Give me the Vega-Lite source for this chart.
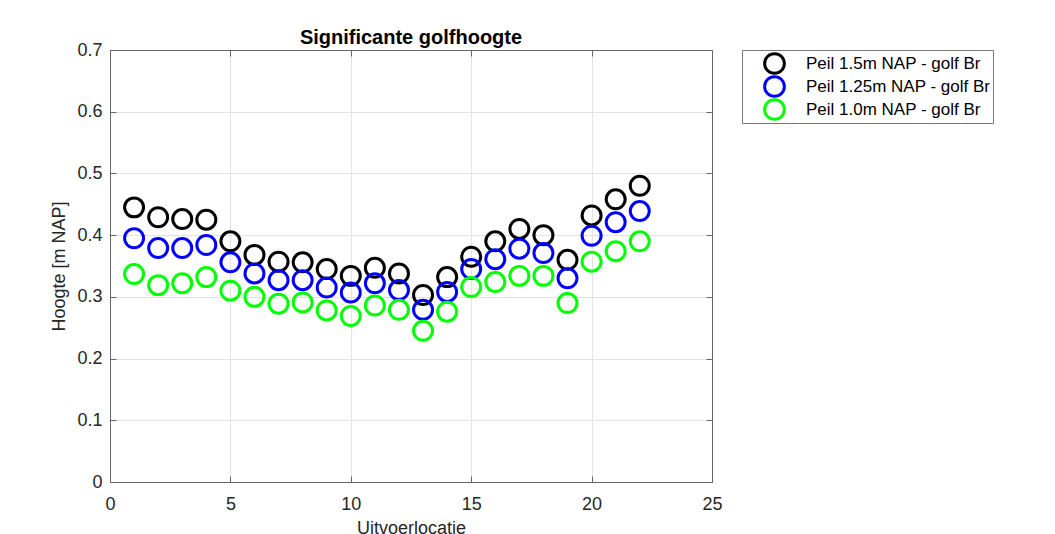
{
  "$schema": "https://vega.github.io/schema/vega-lite/v6.json",
  "width": 602,
  "height": 432,
  "autosize": "none",
  "padding": {"left": 110, "top": 50, "right": 343, "bottom": 52},
  "background": "white",
  "title": {"text": "Significante golfhoogte", "font": "Liberation Sans", "fontSize": 20, "fontWeight": "bold", "color": "#000000", "offset": -7, "anchor": "middle"},
  "config": {
    "view": {"stroke": "#666666", "strokeWidth": 1},
    "axis": {"labelFont": "Liberation Sans", "titleFont": "Liberation Sans", "labelFontSize": 18, "titleFontSize": 18, "titleFontWeight": "normal", "labelColor": "#262626", "titleColor": "#262626", "domainColor": "#666666", "tickColor": "#666666", "gridColor": "#e3e3e3"}
  },
  "data": {"values": [
    {"loc": 1, "h": 0.445, "s": "Peil 1.5m NAP - golf Br"},
    {"loc": 2, "h": 0.429, "s": "Peil 1.5m NAP - golf Br"},
    {"loc": 3, "h": 0.426, "s": "Peil 1.5m NAP - golf Br"},
    {"loc": 4, "h": 0.425, "s": "Peil 1.5m NAP - golf Br"},
    {"loc": 5, "h": 0.390, "s": "Peil 1.5m NAP - golf Br"},
    {"loc": 6, "h": 0.368, "s": "Peil 1.5m NAP - golf Br"},
    {"loc": 7, "h": 0.357, "s": "Peil 1.5m NAP - golf Br"},
    {"loc": 8, "h": 0.356, "s": "Peil 1.5m NAP - golf Br"},
    {"loc": 9, "h": 0.345, "s": "Peil 1.5m NAP - golf Br"},
    {"loc": 10, "h": 0.334, "s": "Peil 1.5m NAP - golf Br"},
    {"loc": 11, "h": 0.347, "s": "Peil 1.5m NAP - golf Br"},
    {"loc": 12, "h": 0.338, "s": "Peil 1.5m NAP - golf Br"},
    {"loc": 13, "h": 0.303, "s": "Peil 1.5m NAP - golf Br"},
    {"loc": 14, "h": 0.332, "s": "Peil 1.5m NAP - golf Br"},
    {"loc": 15, "h": 0.365, "s": "Peil 1.5m NAP - golf Br"},
    {"loc": 16, "h": 0.390, "s": "Peil 1.5m NAP - golf Br"},
    {"loc": 17, "h": 0.410, "s": "Peil 1.5m NAP - golf Br"},
    {"loc": 18, "h": 0.400, "s": "Peil 1.5m NAP - golf Br"},
    {"loc": 19, "h": 0.360, "s": "Peil 1.5m NAP - golf Br"},
    {"loc": 20, "h": 0.432, "s": "Peil 1.5m NAP - golf Br"},
    {"loc": 21, "h": 0.458, "s": "Peil 1.5m NAP - golf Br"},
    {"loc": 22, "h": 0.480, "s": "Peil 1.5m NAP - golf Br"},
    {"loc": 1, "h": 0.395, "s": "Peil 1.25m NAP - golf Br"},
    {"loc": 2, "h": 0.379, "s": "Peil 1.25m NAP - golf Br"},
    {"loc": 3, "h": 0.379, "s": "Peil 1.25m NAP - golf Br"},
    {"loc": 4, "h": 0.384, "s": "Peil 1.25m NAP - golf Br"},
    {"loc": 5, "h": 0.356, "s": "Peil 1.25m NAP - golf Br"},
    {"loc": 6, "h": 0.338, "s": "Peil 1.25m NAP - golf Br"},
    {"loc": 7, "h": 0.327, "s": "Peil 1.25m NAP - golf Br"},
    {"loc": 8, "h": 0.327, "s": "Peil 1.25m NAP - golf Br"},
    {"loc": 9, "h": 0.315, "s": "Peil 1.25m NAP - golf Br"},
    {"loc": 10, "h": 0.307, "s": "Peil 1.25m NAP - golf Br"},
    {"loc": 11, "h": 0.322, "s": "Peil 1.25m NAP - golf Br"},
    {"loc": 12, "h": 0.311, "s": "Peil 1.25m NAP - golf Br"},
    {"loc": 13, "h": 0.279, "s": "Peil 1.25m NAP - golf Br"},
    {"loc": 14, "h": 0.308, "s": "Peil 1.25m NAP - golf Br"},
    {"loc": 15, "h": 0.345, "s": "Peil 1.25m NAP - golf Br"},
    {"loc": 16, "h": 0.361, "s": "Peil 1.25m NAP - golf Br"},
    {"loc": 17, "h": 0.378, "s": "Peil 1.25m NAP - golf Br"},
    {"loc": 18, "h": 0.371, "s": "Peil 1.25m NAP - golf Br"},
    {"loc": 19, "h": 0.330, "s": "Peil 1.25m NAP - golf Br"},
    {"loc": 20, "h": 0.399, "s": "Peil 1.25m NAP - golf Br"},
    {"loc": 21, "h": 0.421, "s": "Peil 1.25m NAP - golf Br"},
    {"loc": 22, "h": 0.439, "s": "Peil 1.25m NAP - golf Br"},
    {"loc": 1, "h": 0.337, "s": "Peil 1.0m NAP - golf Br"},
    {"loc": 2, "h": 0.319, "s": "Peil 1.0m NAP - golf Br"},
    {"loc": 3, "h": 0.322, "s": "Peil 1.0m NAP - golf Br"},
    {"loc": 4, "h": 0.332, "s": "Peil 1.0m NAP - golf Br"},
    {"loc": 5, "h": 0.310, "s": "Peil 1.0m NAP - golf Br"},
    {"loc": 6, "h": 0.300, "s": "Peil 1.0m NAP - golf Br"},
    {"loc": 7, "h": 0.289, "s": "Peil 1.0m NAP - golf Br"},
    {"loc": 8, "h": 0.291, "s": "Peil 1.0m NAP - golf Br"},
    {"loc": 9, "h": 0.278, "s": "Peil 1.0m NAP - golf Br"},
    {"loc": 10, "h": 0.269, "s": "Peil 1.0m NAP - golf Br"},
    {"loc": 11, "h": 0.286, "s": "Peil 1.0m NAP - golf Br"},
    {"loc": 12, "h": 0.279, "s": "Peil 1.0m NAP - golf Br"},
    {"loc": 13, "h": 0.245, "s": "Peil 1.0m NAP - golf Br"},
    {"loc": 14, "h": 0.276, "s": "Peil 1.0m NAP - golf Br"},
    {"loc": 15, "h": 0.316, "s": "Peil 1.0m NAP - golf Br"},
    {"loc": 16, "h": 0.324, "s": "Peil 1.0m NAP - golf Br"},
    {"loc": 17, "h": 0.334, "s": "Peil 1.0m NAP - golf Br"},
    {"loc": 18, "h": 0.334, "s": "Peil 1.0m NAP - golf Br"},
    {"loc": 19, "h": 0.290, "s": "Peil 1.0m NAP - golf Br"},
    {"loc": 20, "h": 0.357, "s": "Peil 1.0m NAP - golf Br"},
    {"loc": 21, "h": 0.374, "s": "Peil 1.0m NAP - golf Br"},
    {"loc": 22, "h": 0.390, "s": "Peil 1.0m NAP - golf Br"}
  ]},
  "layer": [
    {
      "mark": {"type": "point", "shape": "circle", "filled": false, "size": 360, "strokeWidth": 3, "opacity": 1},
      "encoding": {
        "x": {"field": "loc", "type": "quantitative", "scale": {"domain": [0, 25], "nice": false, "zero": false}, "title": "Uitvoerlocatie",
          "axis": {"values": [0, 5, 10, 15, 20, 25], "grid": true, "tickSize": -6, "labelPadding": 19, "titlePadding": 6, "labelFlush": false}},
        "y": {"field": "h", "type": "quantitative", "scale": {"domain": [0, 0.7], "nice": false}, "title": "Hoogte [m NAP]",
          "axis": {"values": [0, 0.1, 0.2, 0.3, 0.4, 0.5, 0.6, 0.7], "format": "~g", "grid": true, "tickSize": -6, "labelPadding": 14, "titlePadding": 8, "labelFlush": false}},
        "color": {"field": "s", "type": "nominal",
          "scale": {"domain": ["Peil 1.5m NAP - golf Br", "Peil 1.25m NAP - golf Br", "Peil 1.0m NAP - golf Br"], "range": ["#000000", "#0000ff", "#00ff00"]},
          "legend": {"title": " ", "titleOrient": "left", "titlePadding": 19, "orient": "none", "legendX": 632, "legendY": 0,
            "padding": 2, "fillColor": "white", "strokeColor": "#777777", "symbolType": "circle", "symbolSize": 390, "symbolStrokeWidth": 3, "symbolFillColor": "transparent",
            "labelFont": "Liberation Sans", "labelFontSize": 17, "labelColor": "#000000", "labelOffset": 20, "rowPadding": 0, "clipHeight": 23, "labelLimit": 300}}
      }
    },
    {
      "mark": {"type": "point", "opacity": 0},
      "encoding": {
        "x": {"field": "loc", "type": "quantitative", "axis": {"orient": "top", "values": [0, 5, 10, 15, 20, 25], "labels": false, "grid": false, "tickSize": -6, "title": null, "domain": true}},
        "y": {"field": "h", "type": "quantitative", "axis": {"orient": "right", "values": [0, 0.1, 0.2, 0.3, 0.4, 0.5, 0.6, 0.7], "labels": false, "grid": false, "tickSize": -6, "title": null, "domain": true}}
      }
    }
  ],
  "resolve": {"axis": {"x": "independent", "y": "independent"}}
}
